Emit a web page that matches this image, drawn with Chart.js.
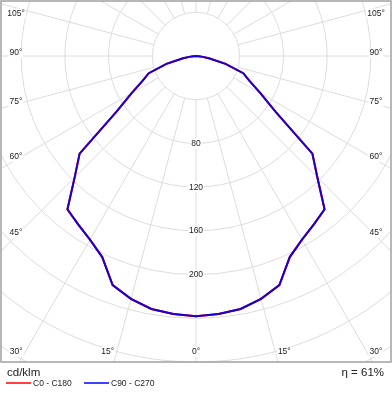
<!DOCTYPE html>
<html>
<head>
<meta charset="utf-8">
<script src="https://cdn.jsdelivr.net/npm/chart.js@4.4.1/dist/chart.umd.min.js"></script>
<style>
  html, body { margin: 0; padding: 0; background: #fff; }
  #wrap { width: 392px; height: 400px; position: relative; }
</style>
</head>
<body>
<div id="wrap"><canvas id="polar"></canvas></div>
<script>
// gamma angles (deg from nadir), values in cd/klm, symmetric curve
const angles = [0, 5, 10, 15, 20, 25, 30, 35, 40, 45, 50, 55, 60, 65, 70, 75, 80, 85, 90];
const c0c180 = [238, 237, 235, 230, 223, 203, 194, 188, 183, 157, 139, 89, 68, 54, 46, 28, 12, 4, 0];
const c90c270 = [238, 237, 235, 230, 223, 203, 194, 188, 183, 157, 139, 89, 68, 54, 46, 28, 12, 4, 0];

const rings = [40, 80, 120, 160, 200, 240, 280, 320];
const ringLabels = [80, 120, 160, 200];
const sideTicks = [105, 90, 75, 60, 45];
const bottomTicks = [30, 15, 0];
const seriesNames = ["C0 - C180", "C90 - C270"];
const unitLabel = "cd/klm";
const efficiency = "η = 61%";

const K = 1.093; // px per cd/klm

function toPoints(vals) {
  const pts = [];
  for (let i = angles.length - 1; i >= 0; i--) {
    const a = -angles[i] * Math.PI / 180;
    pts.push({ x: vals[i] * Math.sin(a), y: -vals[i] * Math.cos(a) });
  }
  for (let i = 1; i < angles.length; i++) {
    const a = angles[i] * Math.PI / 180;
    pts.push({ x: vals[i] * Math.sin(a), y: -vals[i] * Math.cos(a) });
  }
  return pts;
}

const FONT = '"Liberation Sans", Arial, sans-serif';

function labelAt(ctx, text, x, y) {
  const w = ctx.measureText(text).width;
  ctx.fillStyle = "#fff";
  ctx.fillRect(x - w / 2 - 1, y - 5, w + 2, 10);
  ctx.fillStyle = "#222";
  ctx.fillText(text, x, y);
}

const polarGrid = {
  id: "polarGrid",
  beforeDatasetsDraw(chart) {
    const { ctx, chartArea: ca } = chart;
    const xs = chart.scales.x, ys = chart.scales.y;
    const cx = xs.getPixelForValue(0), cy = ys.getPixelForValue(0);
    const px = v => xs.getPixelForValue(v) - cx;
    ctx.save();
    ctx.beginPath();
    ctx.rect(ca.left, ca.top, ca.right - ca.left, ca.bottom - ca.top);
    ctx.clip();
    ctx.strokeStyle = "#dcdcdc";
    ctx.lineWidth = 1;
    rings.forEach(v => {
      ctx.beginPath();
      ctx.arc(cx, cy, px(v), 0, Math.PI * 2);
      ctx.stroke();
    });
    const r0 = px(rings[0]), r1 = px(500);
    for (let a = 0; a < 360; a += 15) {
      const t = a * Math.PI / 180;
      ctx.beginPath();
      ctx.moveTo(cx + r0 * Math.sin(t), cy + r0 * Math.cos(t));
      ctx.lineTo(cx + r1 * Math.sin(t), cy + r1 * Math.cos(t));
      ctx.stroke();
    }
    ctx.restore();
  },
  afterDatasetsDraw(chart) {
    const { ctx, chartArea: ca } = chart;
    const xs = chart.scales.x, ys = chart.scales.y;
    const cx = xs.getPixelForValue(0), cy = ys.getPixelForValue(0);
    ctx.save();
    ctx.font = "8.5px " + FONT;
    ctx.textAlign = "center";
    ctx.textBaseline = "middle";
    ringLabels.forEach(v => labelAt(ctx, String(v), cx, ys.getPixelForValue(-v)));
    // side angle labels
    const lx = 16, rx = ca.right - 15;
    sideTicks.forEach(a => {
      const t = a * Math.PI / 180;
      let y = cy + (cx - lx) * Math.cos(t) / Math.sin(t) - 3;
      if (y < ca.top + 12) y = ca.top + 12.5;
      labelAt(ctx, a + "°", lx, y);
      labelAt(ctx, a + "°", rx, y);
    });
    const by = ca.bottom - 10;
    bottomTicks.forEach(a => {
      const t = a * Math.PI / 180;
      const dx = (by - cy) * Math.tan(t);
      const off = a === 0 ? 0 : 9;
      labelAt(ctx, a + "°", cx - dx - off, by);
      if (a !== 0) labelAt(ctx, a + "°", cx + dx + off, by);
    });
    // frame
    ctx.strokeStyle = "#a0a0a0";
    ctx.lineWidth = 1.5;
    ctx.strokeRect(ca.left, ca.top, ca.right - ca.left, ca.bottom - ca.top);
    // bottom texts and legend
    ctx.fillStyle = "#222";
    ctx.textAlign = "left";
    ctx.font = "11.5px " + FONT;
    ctx.fillText(unitLabel, 7, 373);
    ctx.textAlign = "right";
    ctx.font = "11.5px " + FONT;
    ctx.fillText(efficiency, 384, 373);
    ctx.textAlign = "left";
    ctx.font = "8.5px " + FONT;
    const items = [[6, "#ff0000"], [84, "#0000ff"]];
    items.forEach(([x, col], i) => {
      ctx.strokeStyle = col;
      ctx.lineWidth = 1.5;
      ctx.beginPath();
      ctx.moveTo(x, 383);
      ctx.lineTo(x + 25, 383);
      ctx.stroke();
      ctx.fillStyle = "#222";
      ctx.fillText(seriesNames[i], x + 27, 383.5);
    });
    ctx.restore();
  }
};

new Chart(document.getElementById("polar"), {
  type: "scatter",
  data: {
    datasets: [
      { label: seriesNames[0], data: toPoints(c0c180), showLine: true, borderColor: "#ff0000",
        borderWidth: 2, pointRadius: 0, tension: 0, order: 2 },
      { label: seriesNames[1], data: toPoints(c90c270), showLine: true, borderColor: "#1a00d0",
        borderWidth: 2, pointRadius: 0, tension: 0, order: 1 }
    ]
  },
  options: {
    responsive: true,
    maintainAspectRatio: false,
    animation: false,
    layout: { padding: { left: 1, right: 1, top: 1, bottom: 38 } },
    scales: {
      x: { type: "linear", min: -195 / K, max: 195 / K, display: false },
      y: { type: "linear", min: -306 / K, max: 55 / K, display: false }
    },
    plugins: { legend: { display: false }, tooltip: { enabled: false } }
  },
  plugins: [polarGrid]
});
</script>
</body>
</html>
